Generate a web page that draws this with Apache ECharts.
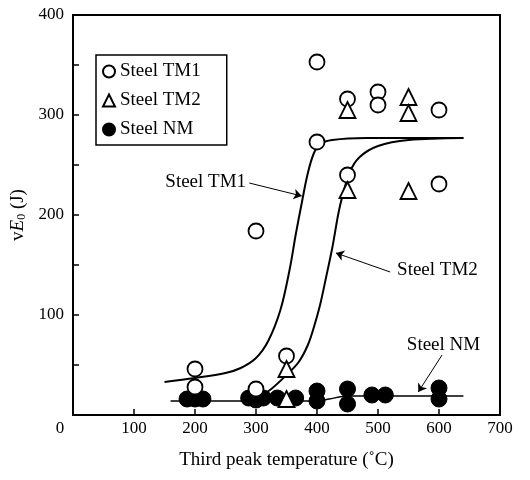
<!DOCTYPE html>
<html>
<head>
<meta charset="utf-8">
<script src="https://cdn.jsdelivr.net/npm/echarts@6/dist/echarts.min.js"></script>
<style>
  html, body { margin: 0; padding: 0; background: #fff; }
  #chart { width: 530px; height: 480px; }
</style>
</head>
<body>
<div id="chart"></div>
<script>
// measured points, [temperature, vE0]
const tm1Points = [[200, 46], [200, 28], [300, 184], [300, 26], [350, 59], [400, 353], [400, 273],
  [450, 316], [450, 240], [500, 323], [500, 310], [600, 305], [600, 231]]
const tm2Points = [[350, 46], [350, 16], [450, 305], [450, 225], [550, 318], [550, 302], [550, 224]]
const nmPoints = [[187, 16], [200, 16], [213, 16], [288, 17], [300, 15], [312, 17], [335, 17], [365, 17],
  [400, 24], [400, 14], [450, 26], [450, 11], [490, 20], [512, 20], [600, 27], [600, 16]]

// hand drawn trend curves
const tm1Curve = [[150, 33], [200, 37], [250, 42], [275, 47], [300, 57], [320, 74], [340, 105], [355, 145],
  [365, 180], [375, 212], [385, 242], [395, 262], [405, 271], [425, 275], [480, 277], [640, 277]]
const tm2Curve = [[305, 18], [325, 26], [350, 40], [370, 53], [385, 70], [395, 88], [405, 110], [415, 138],
  [425, 167], [438, 210], [454, 243], [470, 258], [500, 269], [550, 275], [640, 277]]
const nmCurve = [[160, 14], [400, 14], [420, 16], [450, 19], [640, 19]]

const xTicks = [0, 100, 200, 300, 400, 500, 600, 700]
const yTicks = [0, 100, 200, 300, 400]

// labels and arrows: [x, y] in data units
const notes = [
  { text: 'Steel TM1', at: [287, 233], side: 'left', from: [289, 232], to: [375, 219] },
  { text: 'Steel TM2', at: [528, 145], side: 'right', from: [520, 143], to: [431, 162] },
  { text: 'Steel NM', at: [544, 70], side: 'right', from: [605, 60], to: [566, 23] }
]

const serif = 'Liberation Serif'
const myChart = echarts.init(document.getElementById('chart'))

const curveStyle = { color: '#000', width: 2 }

myChart.setOption({
  animation: false,
  backgroundColor: '#fff',
  textStyle: { fontFamily: serif, color: '#000' },
  grid: {
    left: 73, right: 30, top: 15, bottom: 65,
    show: true, borderColor: '#000', borderWidth: 2
  },
  legend: {
    left: 96,
    top: 55,
    orient: 'vertical',
    padding: [7, 26, 6, 6],
    itemGap: 10,
    itemWidth: 12,
    itemHeight: 12,
    borderColor: '#000',
    borderWidth: 1.5,
    backgroundColor: '#fff',
    textStyle: { fontFamily: serif, fontSize: 19, color: '#000' },
    data: [
      { name: 'Steel TM1', icon: 'circle' },
      { name: 'Steel TM2', icon: 'triangle' },
      { name: 'Steel NM', icon: 'circle' }
    ]
  },
  xAxis: {
    type: 'value',
    min: 0, max: 700, interval: 100,
    name: 'Third peak temperature (\u02daC)',
    nameLocation: 'middle',
    nameGap: 36,
    nameTextStyle: { fontFamily: serif, fontSize: 19, color: '#000' },
    axisLine: { lineStyle: { color: '#000', width: 2 } },
    axisTick: { inside: true, length: 6, lineStyle: { color: '#000', width: 1.5 } },
    splitLine: { show: false },
    axisLabel: {
      fontFamily: serif, fontSize: 17, color: '#000', margin: 5,
      formatter: v => xTicks.indexOf(v) === 0 ? '{z|0}' : String(v),
      rich: { z: { fontFamily: serif, fontSize: 17, padding: [0, 26, 0, 0] } }
    }
  },
  yAxis: {
    type: 'value',
    min: 0, max: 400, interval: 100,
    name: '{a|v}{b|E}{c|0}{a| (J)}',
    nameLocation: 'middle',
    nameGap: 44,
    nameRotate: 90,
    nameTextStyle: {
      rich: {
        a: { fontFamily: serif, fontSize: 19, color: '#000' },
        b: { fontFamily: serif, fontSize: 19, fontStyle: 'italic', color: '#000' },
        c: { fontFamily: serif, fontSize: 12, color: '#000', verticalAlign: 'bottom', padding: [6, 0, 0, 0] }
      }
    },
    axisLine: { lineStyle: { color: '#000', width: 2 } },
    axisTick: { inside: true, length: 6, lineStyle: { color: '#000', width: 1.5 } },
    minorTick: { show: true, splitNumber: 2, length: 6, lineStyle: { color: '#000', width: 1.5 } },
    splitLine: { show: false },
    axisLabel: {
      fontFamily: serif, fontSize: 17, color: '#000', margin: 9,
      formatter: v => v === yTicks[0] ? '' : String(v)
    }
  },
  series: [
    {
      type: 'line', data: tm1Curve, smooth: 0.35, showSymbol: false, symbol: 'none',
      lineStyle: curveStyle, silent: true, z: 1
    },
    {
      type: 'line', data: tm2Curve, smooth: 0.35, showSymbol: false, symbol: 'none',
      lineStyle: curveStyle, silent: true, z: 1
    },
    {
      type: 'line', data: nmCurve, smooth: 0.3, showSymbol: false, symbol: 'none',
      lineStyle: { color: '#000', width: 1.5 }, silent: true, z: 1,
      markLine: {
        silent: true,
        symbol: ['none', 'arrow'],
        symbolSize: 8,
        label: { show: false },
        lineStyle: { color: '#000', width: 1, type: 'solid' },
        data: notes.map(n => [{ coord: n.from }, { coord: n.to }])
      },
      markPoint: {
        silent: true,
        symbolSize: 0,
        data: notes.map(n => ({
          coord: n.at,
          label: {
            show: true, position: n.side, distance: 2, formatter: n.text,
            fontFamily: serif, fontSize: 19, color: '#000'
          }
        }))
      }
    },
    {
      name: 'Steel NM', type: 'scatter', data: nmPoints, symbol: 'circle', symbolSize: 16,
      itemStyle: { color: '#000', borderColor: '#000', borderWidth: 1, opacity: 1 }, z: 3
    },
    {
      name: 'Steel TM1', type: 'scatter', data: tm1Points, symbol: 'circle', symbolSize: 15,
      itemStyle: { color: '#fff', borderColor: '#000', borderWidth: 1.8, opacity: 1 }, z: 4
    },
    {
      name: 'Steel TM2', type: 'scatter', data: tm2Points, symbol: 'triangle', symbolSize: 16,
      itemStyle: { color: '#fff', borderColor: '#000', borderWidth: 1.8, opacity: 1 }, z: 5
    }
  ]
})
</script>
</body>
</html>
